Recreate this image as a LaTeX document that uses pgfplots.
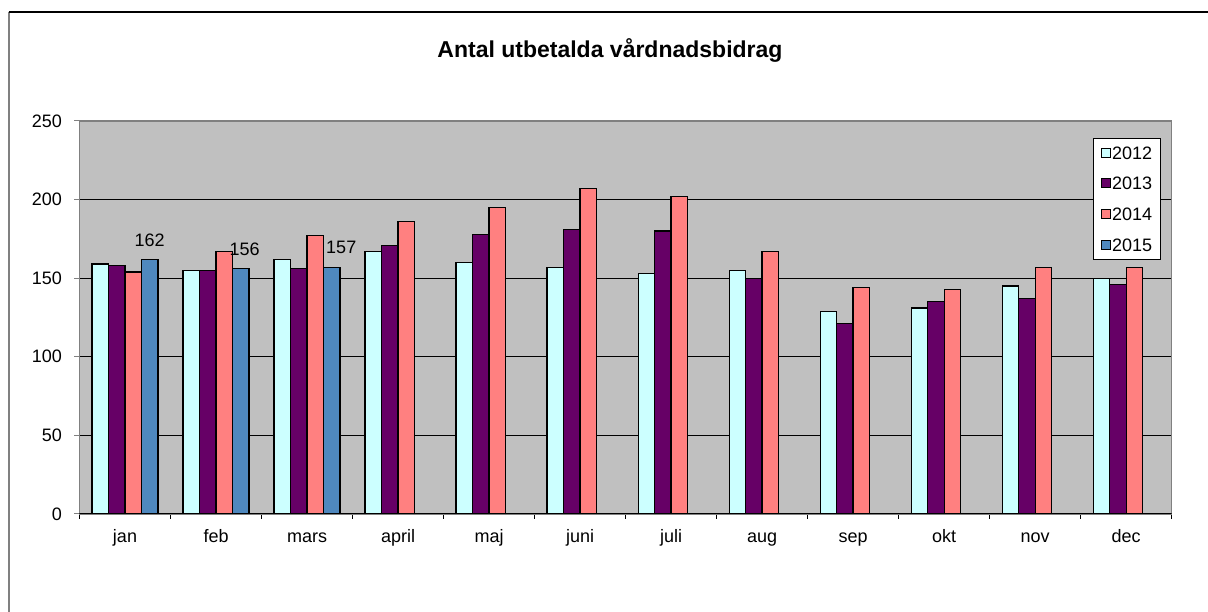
\documentclass[border=0pt]{standalone}
\usepackage{fontspec}
\setmainfont{Liberation Sans}
\usepackage{pgfplots}
\pgfplotsset{compat=1.18}
\definecolor{c12}{HTML}{CCFFFF}
\definecolor{c13}{HTML}{660066}
\definecolor{c14}{HTML}{FF8080}
\definecolor{c15}{HTML}{4F88BE}
\definecolor{bg}{HTML}{C0C0C0}
\definecolor{framec}{HTML}{808080}
\newcommand{\lbl}{\fontsize{18}{21}\selectfont}
\begin{document}
\begin{tikzpicture}[x=1pt,y=1pt]
\path[use as bounding box] (0,0) rectangle (1208,612);
\draw[framec, line width=2pt] (8.5,0) -- (8.5,600);
\draw[black, line width=1.5pt] (8.5,600) -- (1208,600);
\node[anchor=base, font=\fontsize{23}{27}\selectfont\bfseries, inner sep=0pt] at (610,554.7) {Antal utbetalda vårdnadsbidrag};
\begin{axis}[
  at={(79.5pt,98pt)}, anchor=south west,
  width=1092.2pt, height=393pt, scale only axis,
  xmin=-0.5, xmax=11.5, ymin=0, ymax=250,
  ybar=0pt, bar width=0.181,
  every axis plot/.append style={draw=black, line width=1.3pt,
    legend image code/.code={\draw[##1, draw=black, line width=1pt] (0pt,-4.5pt) rectangle (9pt,4.5pt);}},
  axis background/.style={fill=bg},
  xtick={-0.5,0.5,...,11.5},
  x tick label as interval,
  xticklabels={jan,feb,mars,april,maj,juni,juli,aug,sep,okt,nov,dec},
  ytick={0,50,...,250},
  ymajorgrids, grid style={black, line width=0.9pt},
  tick align=outside, major tick length=5pt,
  xtick pos=bottom, ytick pos=left,
  xtick style={black, line width=1pt},
  ytick style={framec, line width=1pt},
  axis line style={framec, line width=1.3pt},
  tick label style={font=\lbl},
  /pgf/number format/assume math mode=true,
  yticklabel style={anchor=east, inner sep=0pt, xshift=-12.5pt},
  xticklabel style={anchor=base, inner sep=0pt, yshift=-24pt},
  legend style={at={(0.9903,0.9567)}, anchor=north east, draw=black, fill=white,
    line width=1pt, font=\lbl, inner xsep=7.5pt, inner ysep=6.5pt, row sep=15.9pt,
    nodes={inner sep=1pt, text height=13pt, text depth=0pt}},
  legend cell align=left,
]
\addplot[fill=c12] coordinates {(0,159) (1,155) (2,162) (3,167) (4,160) (5,157) (6,153) (7,155) (8,129) (9,131) (10,145) (11,150)};
\addplot[fill=c13] coordinates {(0,158) (1,155) (2,156) (3,171) (4,178) (5,181) (6,180) (7,150) (8,121) (9,135) (10,137) (11,146)};
\addplot[fill=c14] coordinates {(0,154) (1,167) (2,177) (3,186) (4,195) (5,207) (6,202) (7,167) (8,144) (9,143) (10,157) (11,157)};
\addplot[fill=c15, nodes near coords,
  visualization depends on={\thisrow{dx} \as \dx},
  every node near coord/.append style={font=\lbl, text=black, anchor=south, inner sep=0pt, yshift=12.5pt, xshift=\dx pt}]
  table {
x y dx
0 162 0
1 156 4
2 157 9.5
};
\draw[black, line width=1.3pt] (axis cs:-0.5,0) -- (axis cs:11.5,0);
\legend{2012,2013,2014,2015}
\end{axis}
\end{tikzpicture}
\end{document}
